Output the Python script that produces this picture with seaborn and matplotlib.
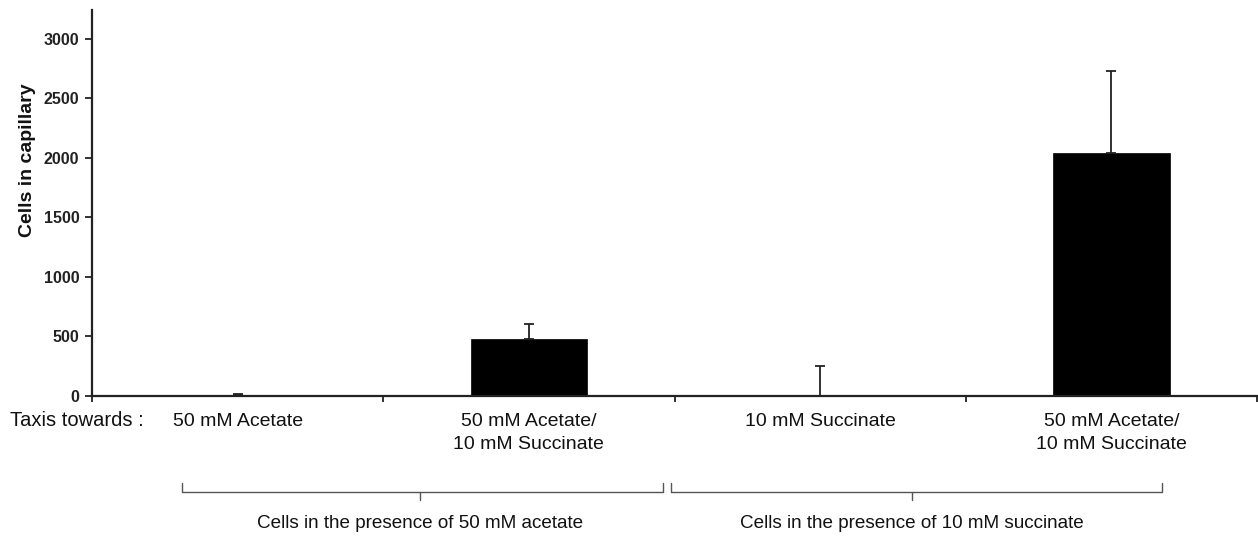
import matplotlib
matplotlib.use("Agg")
import matplotlib.pyplot as plt
import matplotlib.transforms as mtransforms
import seaborn as sns
import pandas as pd

categories = ["50 mM Acetate", "50 mM Acetate/\n10 mM Succinate",
              "10 mM Succinate", "50 mM Acetate/\n10 mM Succinate"]
cat_keys = ["A", "B", "C", "D"]
values = [5, 480, 0, 2040]
errors = [12, 125, 250, 690]
yticks = [0, 500, 1000, 1500, 2000, 2500, 3000]
group_labels = ["Cells in the presence of 50 mM acetate",
                "Cells in the presence of 10 mM succinate"]

sns.set_theme(style="white")
plt.rcParams['font.family'] = ['Liberation Sans', 'DejaVu Sans']

df = pd.DataFrame({"cat": cat_keys, "val": values})

fig = plt.figure(figsize=(12.58, 5.36), dpi=100)
ax = fig.add_axes([92/1258, 1-396/536, (1257-92)/1258, 386/536])

sns.barplot(data=df, x="cat", y="val", order=cat_keys, color="black",
            width=0.4, errorbar=None, ax=ax, saturation=1,
            edgecolor="black", linewidth=0.5)

xpos = list(range(len(values)))
ax.errorbar(xpos, values, yerr=[[0]*len(errors), errors], fmt="none",
            ecolor="#222222", elinewidth=1.3, capsize=3.5, capthick=1.3)

ax.set_xlim(-0.5, 3.5)
ax.set_ylim(0, 3240)
ax.set_yticks(yticks)
ax.set_yticklabels([str(t) for t in yticks], fontsize=11.5, fontweight="bold",
                   color="#222222")
ax.set_xticks(xpos)
ax.set_xticklabels(categories, fontsize=14, color="#111111", linespacing=1.45)
ax.set_xticks([-0.5, 0.5, 1.5, 2.5, 3.5], minor=True)
ax.tick_params(axis="x", which="major", length=0, pad=12)
ax.tick_params(axis="x", which="minor", length=4, width=1.3, color="#222222",
               direction="out", bottom=True)
ax.tick_params(axis="y", length=5, width=1.3, color="#222222",
               direction="out", left=True, pad=4)
ax.set_xlabel("")
ax.set_ylabel("Cells in capillary", fontsize=14, fontweight="bold",
              color="#111111")
ax.yaxis.set_label_coords((36 - 92) / (1257 - 92), (396 - 160) / 386)

for s in ["top", "right"]:
    ax.spines[s].set_visible(False)
for s in ["left", "bottom"]:
    ax.spines[s].set_color("#222222")
    ax.spines[s].set_linewidth(1.6)

fig.text(10/1258, 1-421/536, "Taxis towards :", fontsize=14.5, color="#111111",
         ha="left", va="center")

# brackets (x in data, y in axes coordinates)
trans = mtransforms.blended_transform_factory(ax.transData, ax.transAxes)
def px2x(px):
    return (px - 92) / 291.25 - 0.5
def py2y(py):
    return (396 - py) / 386

brackets = [(182, 420, 663), (671, 912, 1162)]
for (l, m, r), lab in zip(brackets, group_labels):
    xl, xm, xr = px2x(l), px2x(m), px2x(r)
    ytop, ymid, ybot = py2y(483), py2y(492), py2y(500)
    ax.plot([xl, xl, xr, xr], [ytop, ymid, ymid, ytop], color="#555555",
            lw=1.0, transform=trans, clip_on=False)
    ax.plot([xm, xm], [ymid, ybot], color="#555555", lw=1.0,
            transform=trans, clip_on=False)
    ax.text(xm, py2y(523), lab, fontsize=13.6, color="#111111", ha="center",
            va="center", transform=trans)

fig.savefig("out.png", dpi=100)
